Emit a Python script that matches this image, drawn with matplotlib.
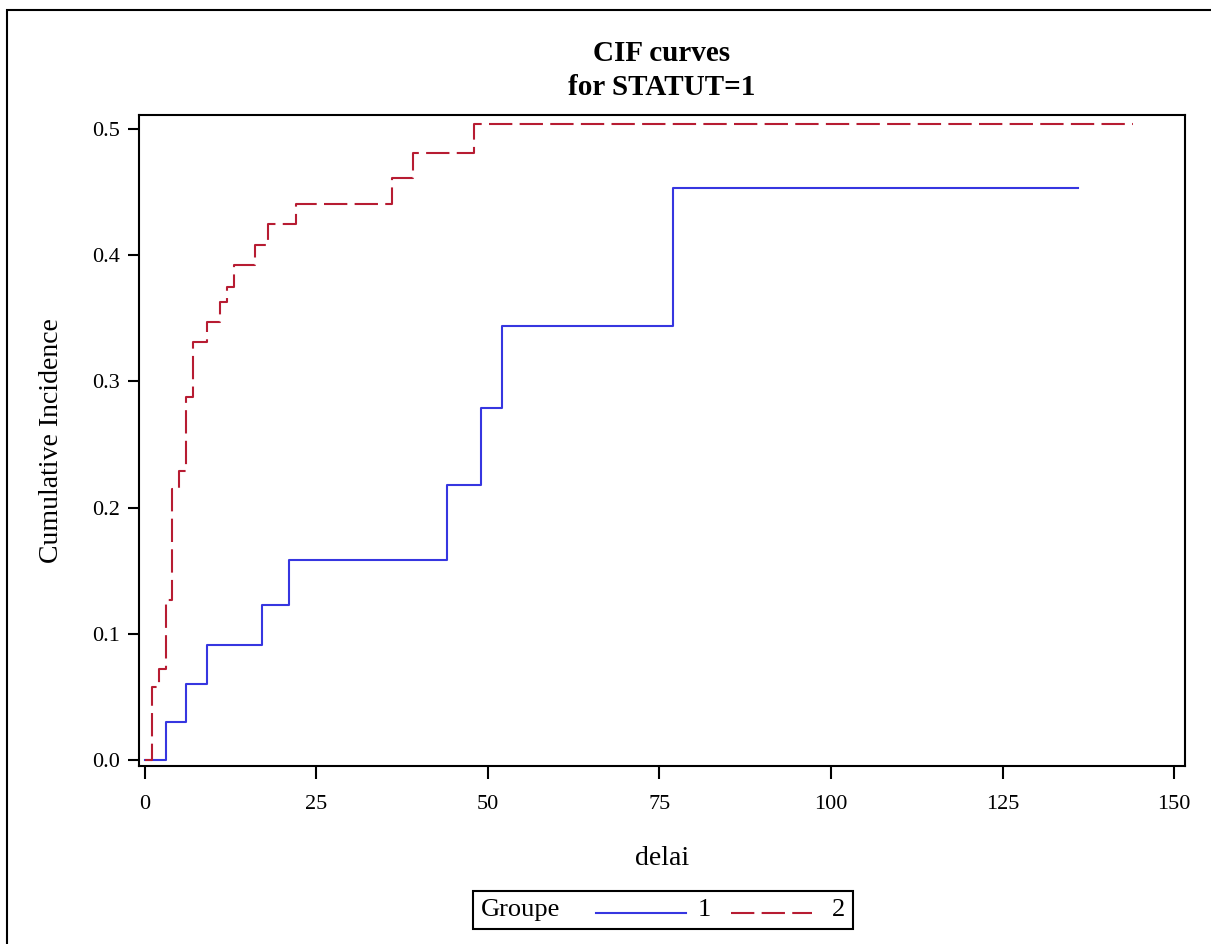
import matplotlib
matplotlib.use("Agg")
import matplotlib.pyplot as plt
from matplotlib.lines import Line2D
from matplotlib.patches import Rectangle
from matplotlib.offsetbox import TextArea, DrawingArea, HPacker, AnchoredOffsetbox

# CIF step data
t_grp1 = [0, 3, 6, 9, 17, 21, 44, 49, 52, 77, 136]
cif_grp1 = [0.0, 0.0303, 0.0606, 0.0909, 0.123, 0.1585, 0.218, 0.279, 0.344, 0.453, 0.453]

t_grp2 = [0, 1, 2, 3, 4, 5, 6, 7, 9, 11, 12, 13, 16, 18, 22, 36, 39, 48, 144]
cif_grp2 = [0.0, 0.0576, 0.0719, 0.127, 0.2145, 0.229, 0.288, 0.3315, 0.347, 0.3627,
            0.375, 0.392, 0.408, 0.4247, 0.4403, 0.461, 0.4807, 0.504, 0.504]

x_ticks = [0, 25, 50, 75, 100, 125, 150]
y_ticks = [0.0, 0.1, 0.2, 0.3, 0.4, 0.5]

blue = "#3636E0"
red = "#B71C32"
dash = (11.2, 3.5)

plt.rcParams["font.family"] = ["Liberation Serif", "DejaVu Serif"]

fig = plt.figure(figsize=(12.11, 9.44), dpi=100)
ax = fig.add_axes([139 / 1211, 1 - 765.7 / 944, (1185 - 139) / 1211, (765.7 - 114.7) / 944])

ax.step(t_grp1, cif_grp1, where="post", color=blue, lw=1.5, label="1")
ax.step(t_grp2, cif_grp2, where="post", color=red, lw=1.5, dashes=dash, label="2")

ax.set_xlim(-0.87, 151.6)
ax.set_ylim(-0.0045, 0.5113)
ax.set_xticks(x_ticks)
ax.set_yticks(y_ticks)
ax.set_xticklabels([str(v) for v in x_ticks])
ax.set_yticklabels(["%.1f" % v for v in y_ticks])
ax.tick_params(axis="x", length=9, width=1.5, pad=12, labelsize=16)
ax.tick_params(axis="y", length=8, width=1.5, pad=6, labelsize=16)
for s in ax.spines.values():
    s.set_linewidth(1.5)

ax.set_xlabel("delai", fontsize=20, labelpad=23)
ax.set_ylabel("Cumulative Incidence", fontsize=20, labelpad=20)
ax.set_title("CIF curves\nfor STATUT=1", fontsize=21, fontweight="bold", pad=14, linespacing=1.35)

# legend: "Groupe  ---- 1  - - - 2" in a box
fs = 19
ta_g = TextArea("Groupe", textprops=dict(fontsize=fs))
da1 = DrawingArea(138 * 0.72, 14)
da1.add_artist(Line2D([36 * 0.72, 126 * 0.72], [5, 5], color=blue, lw=1.5))
ta1 = TextArea("1", textprops=dict(fontsize=fs))
da2 = DrawingArea(121 * 0.72, 14)
da2.add_artist(Line2D([20 * 0.72, 101 * 0.72], [5, 5], color=red, lw=1.5, dashes=dash))
ta2 = TextArea("2", textprops=dict(fontsize=fs))
box = HPacker(children=[ta_g, da1, ta1, da2, ta2], align="center", pad=0, sep=0)
leg = AnchoredOffsetbox(loc="center", child=box, pad=0.3, borderpad=0, frameon=True,
                        prop=dict(size=fs),
                        bbox_to_anchor=(663 / 1211, 1 - 910 / 944),
                        bbox_transform=fig.transFigure)
leg.patch.set_linewidth(1.5)
leg.patch.set_edgecolor("black")
fig.add_artist(leg)

# outer frame of the graph
fig.add_artist(Rectangle((7 / 1211, -0.1), 1.2, 1 - 10 / 944 + 0.1, transform=fig.transFigure,
                         fill=False, lw=1.5, edgecolor="black"))

fig.savefig("out.png", dpi=100)
